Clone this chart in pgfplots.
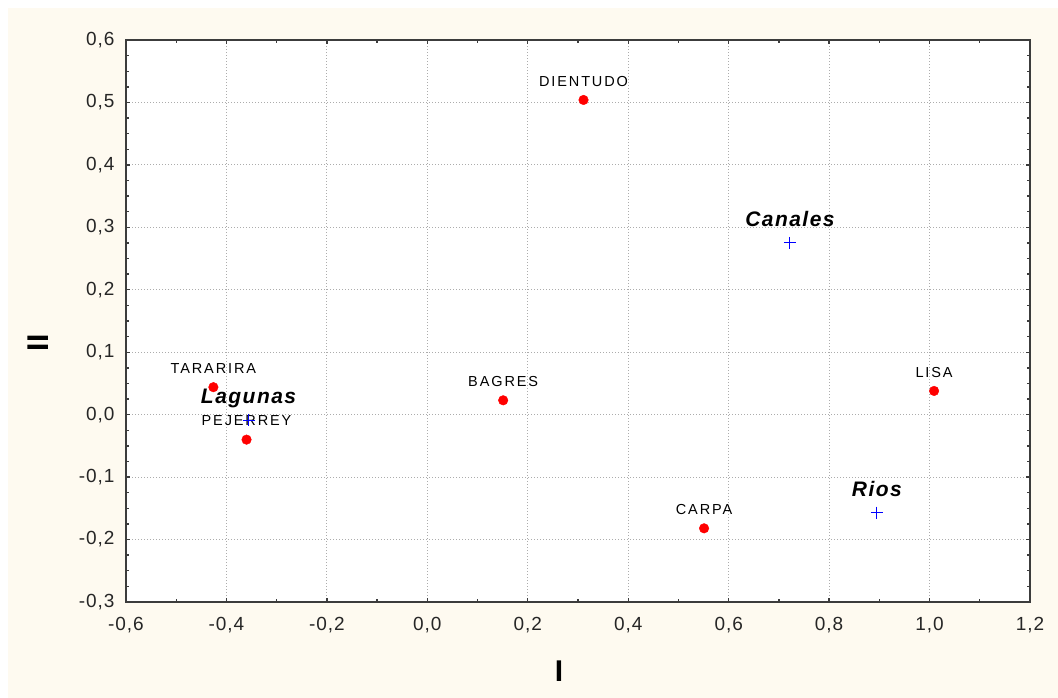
\documentclass[border=0pt]{standalone}
\usepackage{pgfplots}
\pgfplotsset{compat=1.18}
\usepackage{fontspec}
\setmainfont{Liberation Sans}
\newfontfamily\tickfont[LetterSpace=5]{Liberation Sans}
\newfontfamily\ptfont[LetterSpace=13]{Liberation Sans}
\newfontfamily\grpfont[LetterSpace=7]{Liberation Sans}
\definecolor{cream}{RGB}{254,250,240}
\definecolor{axgray}{RGB}{60,60,60}
\begin{document}
\begin{tikzpicture}[x=1pt,y=1pt]
\fill[white] (0,0) rectangle (1058,698);
\fill[cream] (8,0) rectangle (1058,690);
\useasboundingbox (0,0) rectangle (1058,698);
\begin{axis}[
  at={(126pt,96pt)}, anchor=south west,
  width=904pt, height=562pt, scale only axis,
  xmin=-0.6, xmax=1.2, ymin=-0.3, ymax=0.6,
  xtick={-0.6,-0.4,-0.2,0,0.2,0.4,0.6,0.8,1.0,1.2},
  ytick={-0.3,-0.2,-0.1,0,0.1,0.2,0.3,0.4,0.5,0.6},
  minor x tick num=1, minor y tick num=3,
  tick align=inside,
  major tick length=4pt, minor tick length=3pt,
  every tick/.style={axgray, line width=1.4pt},
  axis line style={axgray, line width=1.6pt},
  axis background/.style={fill=white},
  grid=major,
  major grid style={gray!65, dash pattern=on 1pt off 2pt, line width=0.9pt},
  /pgf/number format/.cd, fixed, fixed zerofill, precision=1, use comma, assume math mode=true,
  /pgfplots/.cd,
  tick label style={font=\fontsize{19}{21}\tickfont, text=black!85},
  xticklabel style={yshift=-12pt},
  yticklabel style={xshift=-8pt},
  xlabel={I}, ylabel={II},
  label style={font=\fontsize{30}{32}\selectfont\bfseries},
  xlabel style={at={(axis description cs:0.479,-0.1228)}, anchor=center},
  ylabel style={at={(axis description cs:-0.0973,0.461)}, anchor=center},
  clip=false,
]
\addplot[only marks, mark=*, mark size=4.8pt, mark options={fill=red, draw=red},
  nodes near coords, point meta=explicit symbolic,
  every node near coord/.style={font=\fontsize{14.5}{16}\ptfont, anchor=base, yshift=13.7pt, text=black, inner sep=0pt}]
  table[meta=label] {
x y label
0.311 0.504 DIENTUDO
-0.426 0.044 TARARIRA
-0.360 -0.040 PEJERREY
0.151 0.023 BAGRES
0.551 -0.182 CARPA
1.009 0.038 LISA
};
\addplot[only marks, mark=+, mark size=6pt, mark options={draw=blue, line width=1pt},
  nodes near coords, point meta=explicit symbolic,
  every node near coord/.style={font=\fontsize{21}{23}\grpfont\bfseries\itshape, anchor=base, yshift=16.5pt, text=black, inner sep=0pt}]
  table[meta=label] {
x y label
0.722 0.275 Canales
-0.356 -0.009 Lagunas
0.895 -0.157 Rios
};
\end{axis}
\end{tikzpicture}
\end{document}
